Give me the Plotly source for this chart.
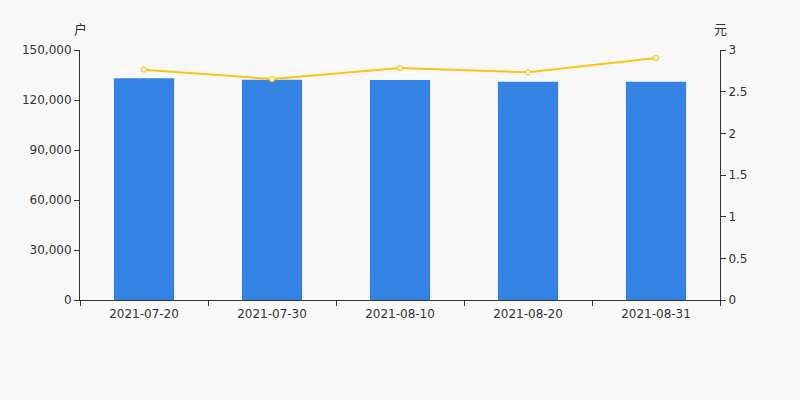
import plotly.graph_objects as go

dates = ["2021-07-20", "2021-07-30", "2021-08-10", "2021-08-20", "2021-08-31"]
households = [133000, 132200, 132000, 131000, 131000]
avg_price = [2.764, 2.652, 2.784, 2.732, 2.904]

fig = go.Figure()
fig.add_trace(go.Bar(x=dates, y=households, marker=dict(color="#3483E3", line=dict(width=0)),
                     width=0.47, name="户数", yaxis="y"))
fig.add_trace(go.Scatter(x=dates, y=avg_price, mode="lines+markers", yaxis="y2",
                         line=dict(color="#F9C512", width=2),
                         marker=dict(symbol="circle", size=5, color="#ffffff",
                                     line=dict(color="#F9C512", width=1.2)),
                         name="价格"))

font = dict(family="DejaVu Sans", size=12, color="#333333")
fig.update_layout(
    width=800, height=400,
    margin=dict(l=80, r=80, t=50, b=100),
    paper_bgcolor="#F8F8F8", plot_bgcolor="#F8F8F8",
    showlegend=False,
    font=font,
    xaxis=dict(type="category", showline=True, linecolor="#333333", linewidth=1,
               ticks="outside", tickson="boundaries", ticklen=5, tickcolor="#333333",
               showgrid=False, tickfont=font, ticklabelstandoff=3),
    yaxis=dict(range=[0, 150000], tickvals=[0, 30000, 60000, 90000, 120000, 150000],
               tickformat=",", showline=True, linecolor="#333333", linewidth=1,
               ticks="outside", ticklen=5, tickcolor="#333333", showgrid=False,
               zeroline=False, tickfont=font),
    yaxis2=dict(range=[0, 3], tickvals=[0, 0.5, 1, 1.5, 2, 2.5, 3],
                ticktext=["0", "0.5", "1", "1.5", "2", "2.5", "3"],
                overlaying="y", side="right", showline=True, linecolor="#333333",
                linewidth=1, ticks="outside", ticklen=5, tickcolor="#333333",
                showgrid=False, zeroline=False, tickfont=font),
    annotations=[
        dict(text="户", xref="paper", yref="paper", x=0, y=1, xshift=0, yshift=22,
             xanchor="center", yanchor="middle", showarrow=False,
             font=dict(family="Noto Sans CJK SC", size=13, color="#333333")),
        dict(text="元", xref="paper", yref="paper", x=1, y=1, xshift=0, yshift=22,
             xanchor="center", yanchor="middle", showarrow=False,
             font=dict(family="Noto Sans CJK SC", size=13, color="#333333")),
    ],
)

fig.write_html("out.html", config={"displayModeBar": False},
               post_script="document.body.style.margin='0';document.body.style.background='#F8F8F8';")
